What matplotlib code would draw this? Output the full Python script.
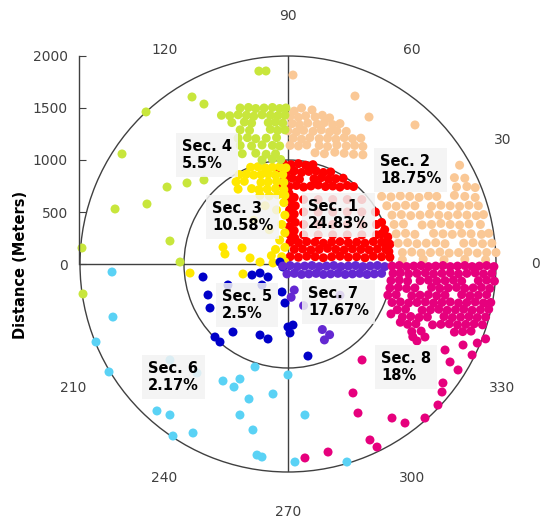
import numpy as np
import matplotlib.pyplot as plt

sec_names = ['Sec. 1', 'Sec. 2', 'Sec. 3', 'Sec. 4', 'Sec. 5', 'Sec. 6', 'Sec. 7', 'Sec. 8']
sec_pct = [24.83, 18.75, 10.58, 5.5, 2.5, 2.17, 17.67, 18]
sec_colors = ['#ff0000', '#fac896', '#ffe800', '#c8e63c', '#0000c8', '#5ad2f5', '#6428d2', '#e6007d']
theta_ticks = [0, 30, 60, 90, 120, 210, 240, 270, 300, 330]
dist_ticks = [0, 500, 1000, 1500, 2000]

# points as (east, north) in meters
sec1 = np.array([
    (-40, 960), (30, 955), (100, 965), (170, 950), (240, 955),
    (-80, 890), (-10, 885), (60, 895), (130, 880), (200, 890), (270, 895), (340, 880), (410, 885),
    (-30, 820), (40, 825), (110, 815), (250, 820), (320, 830), (390, 815), (460, 820), (530, 825),
    (-60, 750), (10, 745), (80, 755), (150, 740), (220, 750), (290, 760), (360, 745), (430, 750),
    (500, 740), (570, 755), (630, 745),
    (10, 680), (60, 640), (20, 600), (70, 560), (15, 520), (60, 480), (20, 440), (70, 400),
    (15, 360), (60, 320), (20, 280), (65, 250),
    (150, 620), (290, 620), (430, 620), (570, 620), (710, 620),
    (150, 500), (290, 500), (430, 500), (570, 500), (710, 500), (840, 500),
    (150, 380), (290, 380), (430, 380), (570, 380), (710, 380), (850, 380),
    (150, 280), (290, 280), (430, 280), (570, 280), (710, 280), (850, 280),
    (900, 400), (930, 330), (960, 260), (900, 290), (980, 190), (930, 200), (970, 120),
    (20, 210), (100, 205), (180, 215), (260, 210), (340, 200), (420, 210), (500, 215), (580, 205),
    (660, 210), (740, 200), (820, 215), (900, 210), (960, 205),
    (60, 140), (140, 145), (220, 135), (300, 140), (380, 150), (460, 140), (540, 135), (620, 145),
    (700, 140), (780, 135), (860, 145), (940, 140),
    (20, 70), (100, 65), (180, 75), (260, 70), (340, 60), (420, 70), (500, 75), (580, 65),
    (660, 70), (740, 60), (820, 75), (900, 70), (980, 65),
])
sec2 = np.array([
    (48, 1817), (644, 1615), (1221, 1337), (779, 1413), (231, 1481), (60, 1470), (130, 1500),
    (20, 1420), (100, 1410), (170, 1425), (260, 1415), (330, 1430), (400, 1405),
    (40, 1350), (110, 1340), (190, 1355), (280, 1345), (350, 1360), (430, 1340), (500, 1350),
    (0, 1280), (80, 1270), (150, 1285), (240, 1275), (320, 1290), (400, 1270), (470, 1280), (560, 1275),
    (50, 1210), (130, 1200), (210, 1215), (300, 1205), (380, 1210), (460, 1200), (540, 1215),
    (620, 1205), (700, 1210),
    (20, 1140), (100, 1135), (180, 1145), (300, 1140), (380, 1130), (470, 1145), (560, 1135),
    (640, 1140), (720, 1130),
    (260, 1070), (350, 1060), (450, 1075), (540, 1065), (630, 1055), (720, 1050),
    (1650, 950), (1600, 830), (1700, 825), (1620, 740), (1720, 745), (1800, 735),
    (900, 650), (990, 645), (1080, 655), (1170, 650), (1260, 640), (1350, 655), (1430, 650),
    (1600, 660), (1700, 650), (1800, 640),
    (950, 560), (1040, 555), (1130, 565), (1220, 560), (1380, 555), (1470, 565), (1560, 560),
    (1650, 555), (1740, 565), (1830, 560),
    (1000, 470), (1090, 475), (1180, 465), (1270, 470), (1360, 480), (1450, 470), (1540, 465),
    (1630, 475), (1720, 470), (1810, 465), (1880, 475),
    (1020, 380), (1110, 385), (1290, 375), (1380, 380), (1470, 390), (1560, 380), (1650, 375),
    (1740, 385), (1850, 380),
    (1040, 290), (1130, 295), (1220, 285), (1400, 295), (1490, 290), (1580, 285), (1670, 295),
    (1760, 290), (1860, 285), (1930, 295),
    (1060, 200), (1150, 205), (1240, 195), (1330, 200), (1420, 205), (1510, 195), (1690, 200),
    (1780, 205), (1870, 195), (1960, 200),
    (1100, 110), (1190, 115), (1280, 105), (1370, 110), (1460, 115), (1550, 105), (1640, 110),
    (1730, 115), (1820, 105), (1910, 110), (2000, 110),
    (1100, 40), (1300, 45), (1500, 40), (1700, 45), (1900, 40),
])
sec3 = np.array([
    (-360, 930), (-290, 935), (-220, 925), (-150, 930), (-80, 935), (-20, 925),
    (-470, 860), (-400, 865), (-330, 855), (-260, 860), (-190, 865), (-120, 855), (-50, 860),
    (-500, 790), (-420, 795), (-260, 785), (-190, 790), (-110, 795), (-40, 785),
    (-480, 720), (-350, 725), (-280, 715), (-200, 720), (-120, 725), (-40, 715),
    (-270, 660), (-180, 655), (-100, 665), (-30, 660),
    (-40, 590), (-110, 520), (-30, 470), (-60, 380), (-30, 300), (-80, 230), (-30, 160),
    (-120, 140), (-60, 70), (-160, 80), (-30, 20),
    (-220, 560), (-330, 420), (-180, 330),
    (-625, 163), (-442, 154), (-365, 58), (-606, 96), (-942, -87), (-433, -96), (-269, 19), (-144, 10),
])
sec4 = np.array([
    (-280, 1855), (-212, 1856), (-923, 1606), (-808, 1538), (-1365, 1462), (-1596, 1058),
    (-1163, 740), (-971, 779), (-808, 808), (-1663, 529), (-1356, 577), (-1135, 221),
    (-1981, 154), (-1038, 19), (-1971, -288),
    (-460, 1500), (-380, 1505), (-310, 1495), (-230, 1500), (-150, 1505), (-80, 1495), (-20, 1500),
    (-640, 1430), (-560, 1425), (-480, 1435), (-400, 1430), (-330, 1420), (-250, 1435),
    (-170, 1430), (-100, 1425), (-30, 1430),
    (-540, 1360), (-420, 1365), (-350, 1355), (-190, 1360), (-120, 1365), (-50, 1355),
    (-460, 1290), (-370, 1285), (-170, 1295), (-100, 1285), (-30, 1290),
    (-480, 1210), (-390, 1215), (-310, 1205), (-210, 1210), (-110, 1215),
    (-460, 1140), (-350, 1135), (-250, 1145), (-150, 1140), (-80, 1135),
    (-440, 1060), (-310, 1065), (-210, 1055), (-120, 1060),
    (-250, 1000), (-150, 1010), (-70, 1005),
])
sec5 = np.array([
    (-817, -125), (-769, -298), (-750, -423), (-702, -702), (-654, -750), (-529, -654),
    (-269, -683), (-192, -721), (-346, -106), (-269, -87), (-192, -125), (-58, -269),
    (-29, -375), (0, -606), (19, -663), (-48, -29), (-577, -202), (-250, -202), (-77, 19),
    (192, -885), (48, -587),
])
sec6 = np.array([
    (-1692, -77), (-1683, -510), (-1846, -750), (-1721, -1038), (-1260, -1413), (-1135, -1452),
    (-1106, -1654), (-913, -1625), (-625, -1125), (-462, -1106), (-519, -1183), (-375, -1298),
    (-144, -1250), (-462, -1452), (-337, -1596), (-298, -1837), (-250, -1856), (-317, -990),
    (0, -1067), (67, -1904), (163, -1452), (567, -1904), (-1135, -923), (-875, -1048),
])
sec7 = np.array([
    (-50, -20), (20, -15), (90, -25), (160, -20), (230, -15), (300, -25), (370, -20), (440, -15),
    (510, -25), (580, -20), (650, -15), (720, -25), (790, -20), (860, -15), (930, -25),
    (-10, -95), (60, -90), (130, -100), (200, -95), (270, -90), (340, -100), (410, -95),
    (480, -90), (550, -100), (620, -95), (690, -90), (760, -100), (830, -95), (900, -90),
    (60, -250), (30, -320), (330, -630), (400, -680), (350, -730), (150, -400), (500, -300),
])
sec8 = np.array([
    (1000, -20), (1070, -15), (1140, -25), (1210, -20), (1280, -15), (1350, -25), (1420, -20),
    (1490, -15), (1560, -25), (1630, -20), (1700, -15), (1770, -25), (1840, -20), (1910, -15),
    (1980, -25),
    (1010, -90), (1080, -85), (1160, -95), (1240, -90), (1320, -85), (1400, -95), (1480, -90),
    (1560, -85), (1640, -95), (1720, -90), (1800, -85), (1880, -95), (1960, -90),
    (990, -160), (1070, -155), (1150, -165), (1270, -160), (1350, -155), (1430, -165),
    (1510, -160), (1590, -155), (1670, -165), (1830, -160), (1910, -155), (1985, -165),
    (980, -230), (1060, -225), (1140, -235), (1220, -230), (1380, -225), (1460, -235),
    (1540, -230), (1620, -225), (1700, -235), (1780, -230), (1860, -225), (1940, -235),
    (960, -300), (1040, -295), (1190, -305), (1270, -300), (1350, -295), (1430, -305),
    (1510, -300), (1670, -295), (1750, -305), (1830, -300), (1910, -295),
    (1000, -370), (1080, -365), (1160, -375), (1240, -370), (1320, -365), (1400, -375),
    (1480, -370), (1560, -365), (1640, -375), (1720, -370), (1800, -365), (1880, -375), (1950, -370),
    (1050, -440), (1130, -435), (1290, -445), (1370, -440), (1450, -435), (1530, -445),
    (1610, -440), (1690, -435), (1770, -445), (1850, -440), (1930, -435),
    (1100, -510), (1180, -505), (1260, -515), (1340, -510), (1500, -505), (1580, -515),
    (1660, -510), (1740, -505), (1820, -515), (1900, -510),
    (1150, -580), (1230, -575), (1390, -585), (1470, -580), (1550, -575), (1630, -585),
    (1710, -580), (1790, -575), (1870, -585),
    (1190, -650), (1280, -645), (1600, -655), (1680, -650), (1760, -645),
    (990, -480), (1080, -560), (1200, -700),
    (712, -923), (1240, -740), (1317, -702), (1510, -827), (1683, -779), (1770, -875),
    (1820, -760), (1558, -942), (1635, -1019), (1490, -1144), (1481, -1231), (1442, -1356),
    (625, -1240), (673, -1433), (1000, -1481), (1125, -1529), (1317, -1481), (788, -1692),
    (856, -1760), (385, -1808), (163, -1865), (1900, -720),
])
sectors = [sec1, sec2, sec3, sec4, sec5, sec6, sec7, sec8]

# label anchor (axes fraction) for each sector box
label_pos = [(0.548, 0.618), (0.721, 0.726), (0.317, 0.613), (0.245, 0.762),
             (0.341, 0.401), (0.163, 0.228), (0.548, 0.409), (0.724, 0.252)]

grey = '#404040'
fig = plt.figure(figsize=(5.48, 5.27), dpi=100)
ax = fig.add_axes([80/548, 55/527, 416/548, 416/527], projection='polar')

for pts, col in zip(sectors, sec_colors):
    th = np.arctan2(pts[:, 1], pts[:, 0])
    r = np.hypot(pts[:, 0], pts[:, 1])
    ax.scatter(th, r, s=42, c=col, edgecolors='none', zorder=3, clip_on=False)

ax.set_ylim(0, 2000)
ax.set_yticks([1000])
ax.set_yticklabels([])
ax.yaxis.grid(True, color=grey, lw=1)
ax.xaxis.grid(False)
ax.set_axisbelow(True)
ax.set_xticks(np.deg2rad(theta_ticks))
ax.set_xticklabels([str(t) for t in theta_ticks])
ax.tick_params(axis='x', pad=18, labelsize=10, labelcolor=grey)
for a in [0, 90, 180, 270]:
    ax.axvline(np.deg2rad(a), color=grey, lw=1, zorder=1)
ax.spines['polar'].set_color(grey)
ax.spines['polar'].set_linewidth(1)

for name, pct, (fx, fy) in zip(sec_names, sec_pct, label_pos):
    ax.text(fx, fy, f"{name}\n{pct:g}%", transform=ax.transAxes, ha='left', va='center',
            fontsize=10.5, fontweight='bold', linespacing=1.15, zorder=5,
            bbox=dict(boxstyle='square,pad=0.4', fc='#f3f3f3', ec='none', alpha=0.85))

# left distance scale
ax2 = fig.add_axes([79/548, 263/527, 0.01, 208/527])
ax2.patch.set_visible(False)
for s in ['top', 'right', 'bottom']:
    ax2.spines[s].set_visible(False)
ax2.spines['left'].set_color(grey)
ax2.spines['left'].set_linewidth(1)
ax2.set_xticks([])
ax2.set_ylim(0, 2000)
ax2.set_yticks(dist_ticks)
ax2.tick_params(axis='y', direction='in', length=5, color=grey, pad=8, labelsize=10, labelcolor=grey)

fig.text(21/548, 1 - 265/527, 'Distance (Meters)', rotation=90, ha='center', va='center',
         fontsize=10.5, fontweight='bold')

fig.savefig('out.png', dpi=100)
